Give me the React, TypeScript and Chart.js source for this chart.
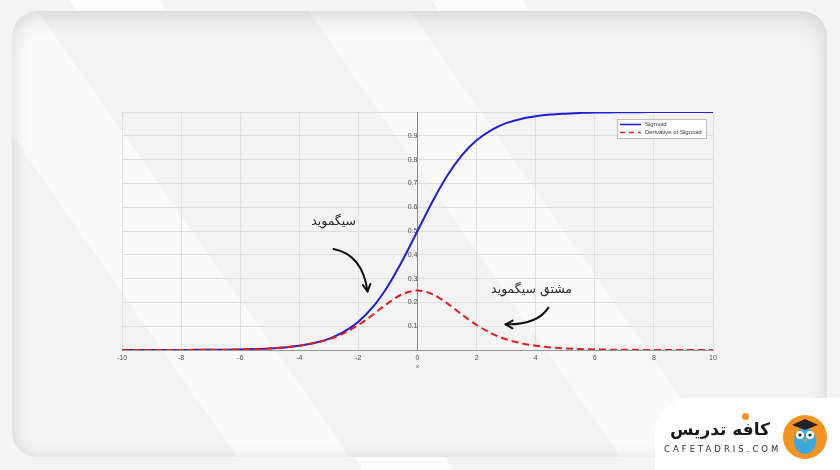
import React, { useEffect, useRef } from "react";
import { Chart, registerables } from "chart.js";

Chart.register(...registerables);

// ---- data ----
const xValues = [
  -10, -9.5, -9, -8.5, -8, -7.5, -7, -6.5, -6, -5.5, -5, -4.5, -4, -3.5, -3, -2.5, -2, -1.5, -1, -0.5,
  0, 0.5, 1, 1.5, 2, 2.5, 3, 3.5, 4, 4.5, 5, 5.5, 6, 6.5, 7, 7.5, 8, 8.5, 9, 9.5, 10,
];
const sigmoidValues = [
  0.0001, 0.0001, 0.0001, 0.0002, 0.0003, 0.0006, 0.0009, 0.0015, 0.0025, 0.0041, 0.0067, 0.011, 0.018,
  0.029, 0.047, 0.076, 0.119, 0.182, 0.269, 0.378, 0.5, 0.622, 0.731, 0.818, 0.881, 0.924, 0.953, 0.971,
  0.982, 0.989, 0.993, 0.996, 0.998, 0.998, 0.999, 0.999, 1.0, 1.0, 1.0, 1.0, 1.0,
];
const derivativeValues = [
  0.0001, 0.0001, 0.0001, 0.0002, 0.0003, 0.0006, 0.0009, 0.0015, 0.0025, 0.004, 0.0066, 0.011, 0.018,
  0.029, 0.045, 0.07, 0.105, 0.149, 0.197, 0.235, 0.25, 0.235, 0.197, 0.149, 0.105, 0.07, 0.045, 0.029,
  0.018, 0.011, 0.0066, 0.004, 0.0025, 0.0015, 0.0009, 0.0006, 0.0003, 0.0002, 0.0001, 0.0001, 0.0001,
];
const seriesLabels = ["Sigmoid", "Derivative of Sigmoid"];
const xAxisTitle = "x";
const annotationTexts = ["سیگموید", "مشتق سیگموید"];

const BLUE = "#1f1fd6";
const RED = "#e41d1d";

type Pt = { x: number; y: number };
// annotation anchors in data units
const ann1Text: Pt = { x: -2.84, y: 0.54 };
const ann1Arrow: Pt[] = [
  { x: -2.84, y: 0.424 },
  { x: -1.86, y: 0.40 },
  { x: -1.69, y: 0.246 },
];
const ann2Text: Pt = { x: 3.86, y: 0.252 };
const ann2Arrow: Pt[] = [
  { x: 4.43, y: 0.178 },
  { x: 4.05, y: 0.105 },
  { x: 2.98, y: 0.108 },
];

const legendPlugin = {
  id: "boxLegend",
  afterDatasetsDraw(chart: any) {
    const { ctx, chartArea } = chart;
    const w = 89;
    const h = 19;
    const x = chartArea.right - 96;
    const y = chartArea.top + 7;
    ctx.save();
    ctx.fillStyle = "#ffffff";
    ctx.fillRect(x, y, w, h);
    ctx.strokeStyle = "#b0b0b0";
    ctx.lineWidth = 0.8;
    ctx.strokeRect(x + 0.5, y + 0.5, w, h);
    const rows = [
      { label: seriesLabels[0], color: BLUE, dash: [] as number[] },
      { label: seriesLabels[1], color: RED, dash: [5, 4] },
    ];
    rows.forEach((r, i) => {
      const ry = y + 5.5 + i * 8;
      ctx.strokeStyle = r.color;
      ctx.lineWidth = 1.6;
      ctx.setLineDash(r.dash);
      ctx.beginPath();
      ctx.moveTo(x + 3, ry);
      ctx.lineTo(x + 24, ry);
      ctx.stroke();
      ctx.setLineDash([]);
      ctx.fillStyle = "#333";
      ctx.font = "6px 'Liberation Sans', Arial, sans-serif";
      ctx.textAlign = "left";
      ctx.textBaseline = "middle";
      ctx.fillText(r.label, x + 28, ry);
    });
    ctx.restore();
  },
};

function drawArrow(ctx: CanvasRenderingContext2D, p: { x: number; y: number }[]) {
  const [a, c, b] = p;
  ctx.beginPath();
  ctx.moveTo(a.x, a.y);
  ctx.quadraticCurveTo(c.x, c.y, b.x, b.y);
  ctx.stroke();
  const ang = Math.atan2(b.y - c.y, b.x - c.x);
  const L = 8;
  ctx.beginPath();
  ctx.moveTo(b.x - L * Math.cos(ang - 0.5), b.y - L * Math.sin(ang - 0.5));
  ctx.lineTo(b.x, b.y);
  ctx.lineTo(b.x - L * Math.cos(ang + 0.5), b.y - L * Math.sin(ang + 0.5));
  ctx.stroke();
}

const annotationPlugin = {
  id: "persianNotes",
  afterDraw(chart: any) {
    const { ctx } = chart;
    const xs = chart.scales.x;
    const ys = chart.scales.y;
    const px = (p: Pt) => ({ x: xs.getPixelForValue(p.x), y: ys.getPixelForValue(p.y) });
    ctx.save();
    ctx.fillStyle = "#2a2a2a";
    ctx.font = "12.5px 'DejaVu Sans', sans-serif";
    ctx.textAlign = "center";
    ctx.textBaseline = "middle";
    (ctx as any).direction = "rtl";
    const t1 = px(ann1Text);
    ctx.fillText(annotationTexts[0], t1.x, t1.y);
    const t2 = px(ann2Text);
    ctx.fillText(annotationTexts[1], t2.x, t2.y);
    ctx.strokeStyle = "#111";
    ctx.lineWidth = 2;
    ctx.lineCap = "round";
    ctx.lineJoin = "round";
    drawArrow(ctx, ann1Arrow.map(px));
    drawArrow(ctx, ann2Arrow.map(px));
    // axis title "x"
    (ctx as any).direction = "ltr";
    ctx.fillStyle = "#555";
    ctx.font = "6px 'Liberation Sans', Arial, sans-serif";
    ctx.fillText(xAxisTitle, xs.getPixelForValue(0), ys.getPixelForValue(0) + 16);
    ctx.restore();
  },
};

function ChartCanvas() {
  const ref = useRef<HTMLCanvasElement | null>(null);
  useEffect(() => {
    if (!ref.current) return;
    const chart = new Chart(ref.current, {
      type: "line",
      data: {
        datasets: [
          {
            label: seriesLabels[0],
            data: xValues.map((x, i) => ({ x, y: sigmoidValues[i] })),
            borderColor: BLUE,
            borderWidth: 2,
            pointRadius: 0,
            cubicInterpolationMode: "monotone",
            order: 2,
          },
          {
            label: seriesLabels[1],
            data: xValues.map((x, i) => ({ x, y: derivativeValues[i] })),
            borderColor: RED,
            borderWidth: 2,
            borderDash: [7, 4],
            pointRadius: 0,
            cubicInterpolationMode: "monotone",
            order: 1,
          },
        ],
      },
      options: {
        animation: false,
        responsive: true,
        maintainAspectRatio: false,
        layout: { padding: { left: 122, right: 127, top: 112, bottom: 120 } },
        plugins: { legend: { display: false }, tooltip: { enabled: false } },
        scales: {
          x: {
            type: "linear",
            min: -10,
            max: 10,
            position: { y: 0 } as any,
            ticks: {
              stepSize: 2,
              color: "#505050",
              padding: 4,
              font: { size: 7, family: "'Liberation Sans', Arial, sans-serif" },
            },
            grid: { color: "#e0e0e0", drawTicks: false },
            border: { color: "#9a9a9a" },
          },
          y: {
            type: "linear",
            min: 0,
            max: 1,
            position: { x: 0 } as any,
            ticks: {
              stepSize: 0.1,
              color: "#505050",
              padding: 1,
              font: { size: 7, family: "'Liberation Sans', Arial, sans-serif" },
              callback: (v: any) => {
                const n = Math.round(Number(v) * 10) / 10;
                if (n <= 0 || n >= 1) return "";
                return n.toFixed(1);
              },
            },
            grid: { color: "#e0e0e0", tickLength: 2 },
            border: { color: "#8a8a8a" },
          },
        },
      },
      plugins: [legendPlugin, annotationPlugin],
    });
    return () => chart.destroy();
  }, []);
  return <canvas ref={ref} />;
}

export default function App() {
  return (
    <div
      style={{
        position: "fixed",
        left: 0,
        top: 0,
        width: 840,
        height: 470,
        overflow: "hidden",
        background: "#f4f4f4",
        backgroundImage:
          "linear-gradient(58deg, transparent 0 32%, rgba(255,255,255,0.8) 32% 40%, transparent 40% 64%, rgba(255,255,255,0.7) 64% 72%, transparent 72%)",
      }}
    >
      <div
        style={{
          position: "absolute",
          left: 12,
          top: 11,
          width: 815,
          height: 446,
          borderRadius: 25,
          background: "#f3f3f3",
          backgroundImage:
            "linear-gradient(55deg, transparent 0 20%, rgba(255,255,255,0.55) 20% 30%, transparent 30% 54%, rgba(255,255,255,0.5) 54% 63%, transparent 63%)",
          boxShadow: "inset 0 10px 22px rgba(0,0,0,0.07), inset 0 0 16px rgba(0,0,0,0.07)",
        }}
      />
      <div
        style={{
          position: "absolute",
          left: 655,
          top: 398,
          width: 200,
          height: 90,
          borderTopLeftRadius: 34,
          background: "#ffffff",
        }}
      />
      <div style={{ position: "absolute", left: 0, top: 0, width: 840, height: 470 }}>
        <ChartCanvas />
      </div>
      <div
        style={{
          position: "absolute",
          left: 662,
          top: 417,
          width: 116,
          textAlign: "center",
          fontFamily: "'DejaVu Sans', sans-serif",
          fontWeight: 900,
          fontSize: 17,
          lineHeight: "24px",
          color: "#1a1a1a",
          whiteSpace: "nowrap",
        }}
      >
        کافه تدریس
      </div>
      <div
        style={{
          position: "absolute",
          left: 742,
          top: 413,
          width: 7,
          height: 7,
          borderRadius: 4,
          background: "#f39321",
        }}
      />
      <div
        style={{
          position: "absolute",
          left: 664,
          top: 444,
          width: 116,
          fontFamily: "'DejaVu Sans', sans-serif",
          fontSize: 8.5,
          letterSpacing: 3,
          color: "#333",
          whiteSpace: "nowrap",
        }}
      >
        CAFETADRIS.COM
      </div>
      <svg
        style={{ position: "absolute", left: 782, top: 414 }}
        width={46}
        height={46}
        viewBox="0 0 46 46"
      >
        <circle cx={23} cy={23} r={22} fill="#f39321" />
        <ellipse cx={23} cy={27} rx={11} ry={13} fill="#3aa9e0" />
        <polygon points="10,11 23,5 36,11 23,16" fill="#222" />
        <circle cx={18} cy={21} r={4} fill="#fff" />
        <circle cx={28} cy={21} r={4} fill="#fff" />
        <circle cx={18} cy={21} r={1.6} fill="#222" />
        <circle cx={28} cy={21} r={1.6} fill="#222" />
        <polygon points="21,25 25,25 23,29" fill="#f39321" />
      </svg>
    </div>
  );
}
